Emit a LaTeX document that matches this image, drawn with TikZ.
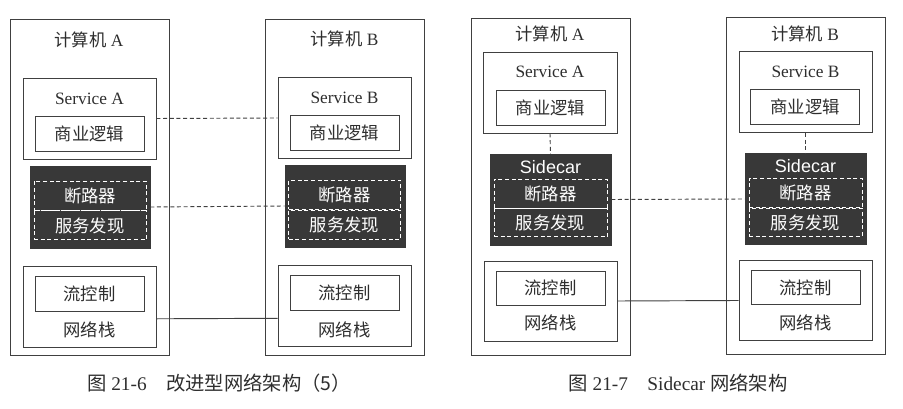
\documentclass[tikz,border=0pt]{standalone}
\usepackage{fontspec}
\setmainfont{Liberation Serif}
\newfontfamily\cjk{Noto Sans CJK SC}
\newfontfamily\sidefont{Liberation Sans}
\usetikzlibrary{positioning,calc}
\definecolor{inkgray}{HTML}{2E2E2E}
\definecolor{linegray}{HTML}{404040}
\definecolor{panelgray}{HTML}{383838}

\begin{document}
\begin{tikzpicture}[x=0.75pt, y=-0.75pt, text=inkgray,
  font=\fontsize{13}{15}\selectfont,
  wirebox/.style 2 args={draw=linegray, line width=0.7pt, inner sep=0pt,
    minimum width=#1*0.75pt, minimum height=#2*0.75pt},
  darkbox/.style 2 args={fill=panelgray, draw=panelgray, inner sep=0pt,
    minimum width=#1*0.75pt, minimum height=#2*0.75pt},
  slot/.style 2 args={draw=white, dash pattern=on 3pt off 2pt, line width=0.7pt,
    text=white, inner sep=0pt, font=\fontsize{13}{15}\selectfont\cjk,
    minimum width=#1*0.75pt, minimum height=#2*0.75pt},
  link/.style={draw=linegray, line width=0.7pt},
  dashlink/.style={link, dash pattern=on 3pt off 2pt}]
  \useasboundingbox (0,0) rectangle (903,409);

  % Left figure: improved network architecture
  \node[wirebox={159}{336}] (macA) at (89.5,187) {};
  \node[wirebox={159}{336}] (macB) at (344.5,187) {};
  \node (labA) at (89,40) {{\cjk 计算机} A};
  \node (labB) at (344.5,39) {{\cjk 计算机} B};

  \node[wirebox={133}{81}] (svcA) at (89.5,118.5) {};
  \node[wirebox={133}{81}] (svcB) at (344.5,118) {};
  \node (svcAtxt) at (89.5,99) {Service A};
  \node (svcBtxt) at (344.5,98) {Service B};
  \node[wirebox={109}{35}] (bizA) at (89.5,133.5) {\cjk 商业逻辑};
  \node[wirebox={109}{35}] (bizB) at (344.5,132.5) {\cjk 商业逻辑};

  \node[darkbox={120}{82}] (darkA) at (90,207) {};
  \node[darkbox={120}{82}] (darkB) at (345,206) {};
  \node[slot={112}{29}] (cbA) at (90,195.5) {断路器};
  \node[slot={112}{29}, below=0pt of cbA] (sdA) {服务发现};
  \node[slot={112}{29}] (cbB) at (344.5,195) {断路器};
  \node[slot={112}{29}, below=0pt of cbB] (sdB) {服务发现};

  \node[wirebox={133}{81}] (netA) at (89.5,306.5) {};
  \node[wirebox={133}{81}] (netB) at (344.5,306) {};
  \node[wirebox={109}{35}] (flowA) at (89.5,293.5) {\cjk 流控制};
  \node[wirebox={109}{35}] (flowB) at (344.5,293) {\cjk 流控制};
  \node (stackA) at (89.5,330) {\cjk 网络栈};
  \node (stackB) at (344.5,330) {\cjk 网络栈};

  \draw[dashlink] (svcA.east) -- (svcB.west);
  \draw[dashlink] (darkA.east) -- (darkB.west);
  \draw[link] ($(netA.south east)!0.35!(netA.north east)$) -- ($(netB.south west)!0.35!(netB.north west)$);

  \node[font=\fontsize{14.5}{17}\selectfont] (capL) at (219,383) {{\cjk 图} 21-6\quad{\cjk 改进型网络架构（5）}};

  % Right figure: sidecar network architecture
  \node[wirebox={159}{337}] (macC) at (550.5,186.5) {};
  \node[wirebox={159}{337}] (macD) at (805.5,186) {};
  \node (labC) at (550,34) {{\cjk 计算机} A};
  \node (labD) at (805,34) {{\cjk 计算机} B};

  \node[wirebox={134}{81}] (svcC) at (550,92.5) {};
  \node[wirebox={133}{81}] (svcD) at (805.5,92) {};
  \node (svcCtxt) at (550,72) {Service A};
  \node (svcDtxt) at (805.5,72) {Service B};
  \node[wirebox={109}{35}] (bizC) at (550.5,107.5) {\cjk 商业逻辑};
  \node[wirebox={109}{35}] (bizD) at (805,107) {\cjk 商业逻辑};

  \node[darkbox={121}{91}] (darkC) at (550.5,199.5) {};
  \node[darkbox={121}{91}] (darkD) at (805.5,199) {};
  \node[text=white, font=\fontsize{13.5}{15}\selectfont\sidefont] (carC) at (550.5,167) {Sidecar};
  \node[text=white, font=\fontsize{13.5}{15}\selectfont\sidefont] (carD) at (805.5,166) {Sidecar};
  \node[slot={113}{29}] (cbC) at (550.5,193.5) {断路器};
  \node[slot={113}{28}, below=0pt of cbC] (sdC) {服务发现};
  \node[slot={113}{29}] (cbD) at (805.5,193) {断路器};
  \node[slot={113}{28}, below=0pt of cbD] (sdD) {服务发现};

  \node[wirebox={133}{80}] (netC) at (550.5,301) {};
  \node[wirebox={133}{80}] (netD) at (805.5,300.5) {};
  \node[wirebox={109}{34}] (flowC) at (550.5,288) {\cjk 流控制};
  \node[wirebox={109}{34}] (flowD) at (805.5,287.5) {\cjk 流控制};
  \node (stackC) at (550.5,323) {\cjk 网络栈};
  \node (stackD) at (805.5,323) {\cjk 网络栈};

  \draw[dashlink] (svcC.south) -- (darkC.north);
  \draw[dashlink] (svcD.south) -- (darkD.north);
  \draw[dashlink] (darkC.east) -- (darkD.west);
  \draw[link] (netC.east) -- (netD.west);

  \node[font=\fontsize{14.5}{17}\selectfont] (capR) at (678,383) {{\cjk 图} 21-7\quad Sidecar {\cjk 网络架构}};
\end{tikzpicture}
\end{document}
